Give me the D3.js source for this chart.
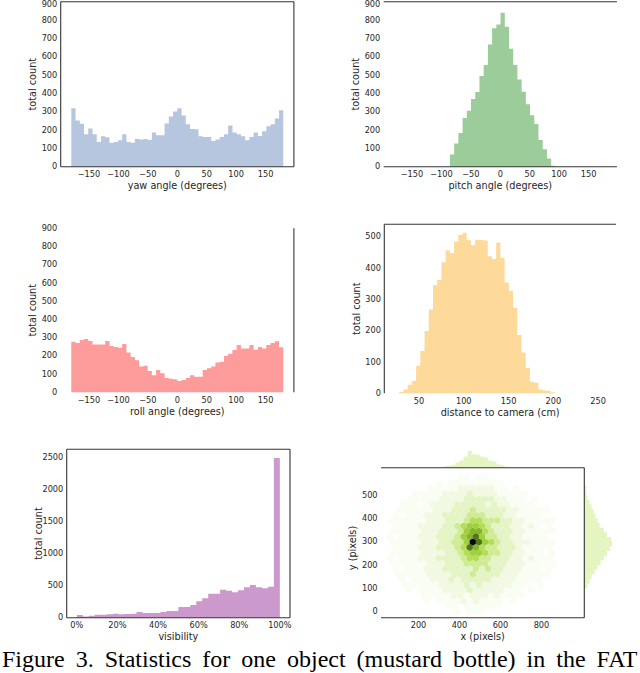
<!DOCTYPE html>
<html>
<head>
<meta charset="utf-8">
<script src="https://cdn.jsdelivr.net/npm/d3@7"></script>
<style>
body { margin: 0; background: #fff; }
text { font-family: "DejaVu Sans", sans-serif; fill: #262626; }
.caption { font-family: "Liberation Serif", "Times New Roman", serif; fill: #000; }
</style>
</head>
<body>
<div id="fig"></div>
<script>
// ---- data ----
var yawRange = [-180, 180];
var yawCounts = [319, 252, 234, 177, 209, 177, 135, 166, 160, 130, 135, 144, 177, 135, 130, 151, 148, 151, 146, 187,
                 171, 171, 236, 274, 301, 319, 279, 231, 205, 204, 166, 162, 162, 140, 148, 162, 177, 225, 186, 177,
                 166, 144, 162, 187, 168, 193, 220, 231, 263, 308];

var pitchRange = [-85.5, 93.5];
var pitchCounts = [67, 127, 184, 265, 305, 369, 407, 495, 555, 667, 755, 776, 840, 764, 644, 555, 475, 409, 340, 280,
                   233, 145, 95, 45, 5];

var rollRange = [-180, 180];
var rollCounts = [278, 271, 287, 293, 282, 263, 263, 263, 282, 254, 249, 245, 265, 218, 194, 176, 141, 146, 117, 93,
                  122, 104, 79, 75, 71, 62, 68, 79, 93, 86, 86, 122, 132, 141, 163, 168, 199, 212, 232, 260,
                  241, 241, 260, 234, 249, 241, 260, 271, 280, 247];

var distRange = [28, 202];
var distCounts = [5, 12, 27, 39, 88, 135, 199, 268, 346, 362, 419, 457, 448, 485, 507, 513, 489, 473, 491, 490,
                  488, 438, 429, 482, 432, 354, 327, 273, 186, 130, 82, 37, 34, 12, 9, 7, 3];

var visRange = [0, 100];
var visCounts = [42, 18, 31, 47, 47, 52, 62, 52, 57, 62, 88, 73, 73, 73, 88, 104, 104, 167, 167, 198,
                 255, 302, 375, 375, 437, 422, 396, 427, 474, 510, 474, 458, 484, 2490];

var angleTicks = [-150, -100, -50, 0, 50, 100, 150];
var angleCountTicks = [0, 100, 200, 300, 400, 500, 600, 700, 800, 900];
var distTicks = [50, 100, 150, 200, 250];
var distCountTicks = [0, 100, 200, 300, 400, 500];
var visTicks = [0, 20, 40, 60, 80, 100];
var visCountTicks = [0, 500, 1000, 1500, 2000, 2500];
var pixXTicks = [200, 400, 600, 800];
var pixYTicks = [0, 100, 200, 300, 400, 500];

// hexbin density levels (0 = empty ... 9 = darkest), rows from y=0 upward, columns x=30..960
var hexXStart = 30, hexXStep = 30, hexYStart = 0, hexYStep = 23;
var hexRows = [
  "00000000000010111000000000000000",
  "00000000001101111110000000000000",
  "00000001011112121111010000000000",
  "00000011111221222121111000000000",
  "00001011112222322222111010000000",
  "00011111122223232222211101000000",
  "00010111222323333322221111000000",
  "00111112222333433332221111100000",
  "00101112223333343433222111010000",
  "01111112223334444333222111110000",
  "01011122233334554433322121110000",
  "01111122223345665443322111010000",
  "00111122233345875443332111110000",
  "01111122233446986543322211110000",
  "01011122233346786443322111100000",
  "01111122233346775433322111110000",
  "00111122223345665433322121010000",
  "01111112223334554443322111110000",
  "00101112223333444333221111000000",
  "00111111222333433333221111100000",
  "00011101222233333232211110000000",
  "00001111122223333322111010000000",
  "00000111112222322221111100000000",
  "00000001111122222211010000000000",
  "00000000010111111111000000000000",
  "00000000000011011000000000000000"
];

// marginal histograms of the joint plot
var topMargRange = [320, 640];
var topMargCounts = [15, 18, 25, 50, 70, 110, 165, 130, 125, 110, 100, 70, 60, 30, 25, 10];
var rightMargRange = [100, 540];
var rightMargCounts = [20, 30, 50, 70, 100, 130, 160, 190, 220, 250, 270, 260, 220, 190, 150, 130, 110, 90, 70, 50, 30, 20];

// ---- drawing ----
var svg = d3.select("#fig").append("svg")
  .attr("width", 640)
  .attr("height", 673);

var spineColor = "#333";

function drawAxes(p, x, y) {
  var g = svg.append("g");
  // tick labels
  g.selectAll(".xt").data(p.xTicks).enter().append("text")
    .attr("x", function (d) { return x(d); })
    .attr("y", p.bottom + 10.3)
    .attr("text-anchor", "middle")
    .style("font-size", "8.2px")
    .text(p.xFormat);
  g.selectAll(".yt").data(p.yTicks).enter().append("text")
    .attr("x", p.left - 3.4)
    .attr("y", function (d) { return Math.max(y(d), 4.6); })
    .attr("dy", "0.32em")
    .attr("text-anchor", "end")
    .style("font-size", "8.2px")
    .text(function (d) { return d; });
  // axis labels
  g.append("text")
    .attr("x", (p.left + p.right) / 2)
    .attr("y", p.bottom + 22.5)
    .attr("text-anchor", "middle")
    .style("font-size", "9.7px")
    .text(p.xLabel);
  g.append("text")
    .attr("transform", "translate(" + (p.left - 28) + "," + (p.yLabelMid || (p.top + p.bottom) / 2) + ") rotate(-90)")
    .attr("dy", "0.35em")
    .attr("text-anchor", "middle")
    .style("font-size", "9.7px")
    .text(p.yLabel);
  // spines
  var sp = {
    top: [p.left, p.top, p.right, p.top],
    bottom: [p.left, p.bottom, p.right, p.bottom],
    left: [p.left, p.top, p.left, p.bottom],
    right: [p.right, p.top, p.right, p.bottom]
  };
  p.spines.forEach(function (s) {
    g.append("line")
      .attr("x1", sp[s][0]).attr("y1", sp[s][1])
      .attr("x2", sp[s][2]).attr("y2", sp[s][3])
      .attr("stroke", spineColor)
      .attr("stroke-width", 1.1);
  });
}

// histogram drawn as one stepped area so neighbouring bars don't leave seams
function drawHist(p) {
  var x = d3.scaleLinear().domain(p.xDomain).range([p.left, p.right]);
  var y = d3.scaleLinear().domain(p.yDomain).range([p.bottom, p.top]);
  var n = p.counts.length;
  var w = (p.range[1] - p.range[0]) / n;
  var pts = p.counts.map(function (c, i) { return { e: p.range[0] + i * w, c: c }; });
  pts.push({ e: p.range[1], c: p.counts[n - 1] });
  var area = d3.area()
    .curve(d3.curveStepAfter)
    .x(function (d) { return x(d.e); })
    .y0(y(0))
    .y1(function (d) { return y(d.c); });
  svg.append("path")
    .datum(pts)
    .attr("d", area)
    .attr("fill", p.color);
  drawAxes(p, x, y);
}

var fmt = function (d) { return d3.format("")(d); };

drawHist({
  left: 60.7, right: 293.9, top: 1.7, bottom: 166.7,
  xDomain: [-198, 198], yDomain: [0, 900],
  counts: yawCounts, range: yawRange, color: "#b7c6df",
  xTicks: angleTicks, yTicks: angleCountTicks, xFormat: fmt,
  xLabel: "yaw angle (degrees)", yLabel: "total count",
  spines: ["top", "bottom", "left", "right"]
});

drawHist({
  left: 383.7, right: 616.9, top: 1.7, bottom: 166.7,
  xDomain: [-198, 198], yDomain: [0, 900],
  counts: pitchCounts, range: pitchRange, color: "#9bcc9a",
  xTicks: angleTicks, yTicks: angleCountTicks, xFormat: fmt,
  xLabel: "pitch angle (degrees)", yLabel: "total count",
  spines: ["top", "bottom"]
});

drawHist({
  left: 60.7, right: 293.9, top: 228.3, bottom: 392.3,
  xDomain: [-198, 198], yDomain: [0, 900],
  counts: rollCounts, range: rollRange, color: "#fe9b9b",
  xTicks: angleTicks, yTicks: angleCountTicks, xFormat: fmt,
  xLabel: "roll angle (degrees)", yLabel: "total count",
  spines: ["right"]
});

drawHist({
  left: 384.3, right: 616, top: 224.3, bottom: 393.3,
  xDomain: [11.3, 269.9], yDomain: [0, 540],
  counts: distCounts, range: distRange, color: "#fdd99a",
  xTicks: distTicks, yTicks: distCountTicks, xFormat: fmt,
  xLabel: "distance to camera (cm)", yLabel: "total count",
  spines: ["top", "left"]
});

drawHist({
  left: 66.7, right: 290, top: 449.3, bottom: 617.7,
  xDomain: [-5, 105], yDomain: [0, 2625],
  counts: visCounts, range: visRange, color: "#cc99cc",
  xTicks: visTicks, yTicks: visCountTicks, xFormat: function (d) { return d + "%"; },
  xLabel: "visibility", yLabel: "total count",
  spines: ["top", "bottom", "left", "right"]
});

// joint hexbin plot
var hp = {
  left: 381, right: 584.3, top: 467.7, bottom: 617.7,
  xTicks: pixXTicks, yTicks: pixYTicks, xFormat: fmt,
  xLabel: "x (pixels)", yLabel: "y (pixels)", yLabelMid: 548,
  spines: ["top", "bottom", "right"]
};
var hx = d3.scaleLinear().domain([17, 1009]).range([hp.left, hp.right]);
var hy = d3.scaleLinear().domain([-26, 617]).range([hp.bottom, hp.top]);
var levelColor = ["none", "#fafdf3", "#f2f9e2", "#e5f4c5", "#d0eb96", "#b4dd58", "#9fd03d", "#84b32d", "#52761b", "#050802"];

var cells = [];
hexRows.forEach(function (row, j) {
  row.split("").forEach(function (c, i) {
    var lv = +c;
    if (lv > 0) {
      cells.push({
        x: hexXStart + i * hexXStep + (j % 2 ? hexXStep / 2 : 0),
        y: hexYStart + j * hexYStep,
        level: lv
      });
    }
  });
});

var r = (hx(hexXStep) - hx(0)) / Math.sqrt(3) + 0.1;
var hexPath = d3.range(6).map(function (k) {
  var a = Math.PI / 3 * k + Math.PI / 6;
  return [r * Math.cos(a), r * Math.sin(a)];
});
var hexD = "M" + hexPath.join("L") + "Z";

svg.append("g").selectAll("path").data(cells).enter().append("path")
  .attr("transform", function (d) { return "translate(" + hx(d.x) + "," + hy(d.y) + ")"; })
  .attr("d", hexD)
  .attr("fill", function (d) { return levelColor[d.level]; });

// top marginal
var tmW = (topMargRange[1] - topMargRange[0]) / topMargCounts.length;
var tmPts = topMargCounts.map(function (c, i) { return { e: topMargRange[0] + i * tmW, c: c }; });
tmPts.push({ e: topMargRange[1], c: topMargCounts[topMargCounts.length - 1] });
var tmY = d3.scaleLinear().domain([0, 170]).range([hp.top, hp.top - 17.5]);
svg.append("path")
  .datum(tmPts)
  .attr("d", d3.area().curve(d3.curveStepAfter)
    .x(function (d) { return hx(d.e); })
    .y0(tmY(0))
    .y1(function (d) { return tmY(d.c); }))
  .attr("fill", "#e4f5c2");

// right marginal
var rmH = (rightMargRange[1] - rightMargRange[0]) / rightMargCounts.length;
var rmPts = rightMargCounts.map(function (c, i) { return { e: rightMargRange[0] + i * rmH, c: c }; });
rmPts.push({ e: rightMargRange[1], c: rightMargCounts[rightMargCounts.length - 1] });
var rmX = d3.scaleLinear().domain([0, 270]).range([hp.right, hp.right + 27.7]);
svg.append("path")
  .datum(rmPts)
  .attr("d", d3.area().curve(d3.curveStepAfter)
    .y(function (d) { return hy(d.e); })
    .x0(rmX(0))
    .x1(function (d) { return rmX(d.c); }))
  .attr("fill", "#e4f5c2");

drawAxes(hp, hx, hy);

// caption
svg.append("text")
  .attr("class", "caption")
  .attr("x", 2)
  .attr("y", 667)
  .style("font-size", "24px")
  .style("word-spacing", "5px")
  .text("Figure 3. Statistics for one object (mustard bottle) in the FAT");
</script>
</body>
</html>
